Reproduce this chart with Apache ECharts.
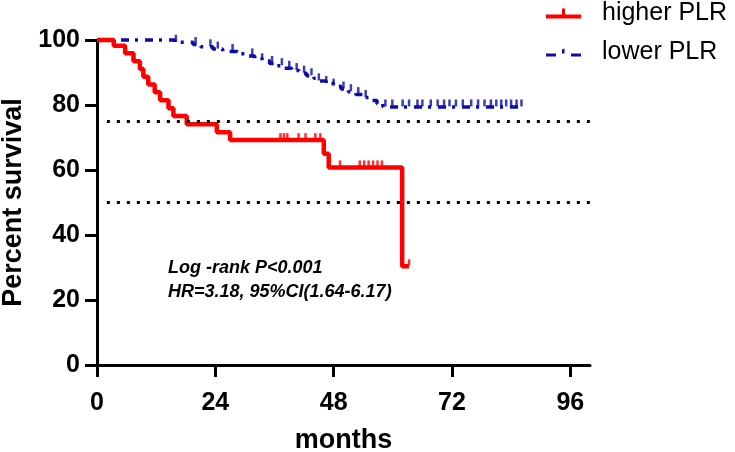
<!DOCTYPE html>
<html>
<head>
<meta charset="utf-8">
<script src="https://cdn.jsdelivr.net/npm/echarts@6/dist/echarts.min.js"></script>
<style>
html,body{margin:0;padding:0;background:#fff;}
#c{width:735px;height:452px;}
</style>
</head>
<body>
<div id="c"></div>
<script>
// ---- data ----
var xTicks = [0, 24, 48, 72, 96];
var yTicks = [0, 20, 40, 60, 80, 100];
var refLevels = [75, 50];

var redName = 'higher PLR';
var redEventTimes = [3.4, 5.7, 7.4, 8.7, 9.4, 10.4, 11.7, 12.8, 14.5, 15.5, 18.2, 24.3, 27.0, 46.0, 47.0, 61.9];
var redEventSurv  = [98.2, 95.9, 93.5, 91.1, 88.7, 86.3, 83.9, 81.5, 79.0, 76.6, 74.1, 71.6, 69.2, 65.0, 60.8, 30.4];
var redEndTime = 63.3;
var redCensorTimes = [37.2, 37.9, 38.6, 40.9, 42.3, 44.3, 45.3, 49.3, 53.3, 54.2, 55.1, 56.0, 56.9, 57.8, 63.3];

var blueName = 'lower PLR';
var blueEventTimes = [15.8, 19.5, 21.0, 23.5, 25.5, 28.5, 30.5, 32.0, 33.5, 35.0, 36.5, 38.0, 39.5, 41.0, 42.5, 44.0, 45.0, 46.5, 48.0, 49.5, 51.0, 52.5, 54.0, 55.5, 56.8, 58.0];
var blueEventSurv  = [99.3, 98.6, 97.9, 97.2, 96.5, 95.8, 95.1, 94.3, 93.6, 92.8, 92.1, 91.3, 90.6, 89.8, 89.0, 88.2, 87.4, 86.6, 85.8, 84.9, 84.1, 83.2, 82.3, 81.4, 80.4, 79.4];
var blueEndTime = 86.3;
var blueCensorTimes = [16.0, 20.0, 23.0, 24.5, 27.5, 31.5, 33.5, 35.5, 37.5, 39.0, 40.5, 42.0, 43.5, 45.0, 46.5, 48.0, 50.0, 51.5, 53.0, 54.5,
  58.5, 59.9, 62.0, 63.3, 65.0, 66.0, 67.7, 69.1, 70.4, 71.5, 72.8, 74.2, 75.9, 77.3, 78.6, 79.9, 81.0, 82.0, 83.0, 84.0, 85.1, 86.1];

var annotLines = ['Log -rank P<0.001', 'HR=3.18, 95%CI(1.64-6.17)'];

// ---- helpers ----
function kmLine(times, surv, endT) {
  var d = [[0, 100]];
  for (var i = 0; i < times.length; i++) d.push([times[i], surv[i]]);
  d.push([endT, surv[surv.length - 1]]);
  return d;
}
function levelAt(t, times, surv) {
  var s = 100;
  for (var i = 0; i < times.length; i++) { if (times[i] <= t) s = surv[i]; }
  return s;
}
function censorPts(ct, times, surv) {
  return ct.map(function (t) { return [t, levelAt(t, times, surv)]; });
}

var RED = '#ff0000';
var BLUE = '#0c0ca6';
var FONT = 'Arial, "Liberation Sans", Helvetica, sans-serif';

var chart = echarts.init(document.getElementById('c'), null, {renderer: 'canvas'});
chart.setOption({
  animation: false,
  backgroundColor: '#ffffff',
  grid: {left: 97, right: 145, top: 40, bottom: 87, containLabel: false, outerBoundsMode: 'none'},
  legend: {
    orient: 'vertical',
    left: 541,
    top: -4,
    itemGap: 14,
    itemWidth: 35,
    itemHeight: 12,
    data: [
      {name: redName, icon: 'path://M0,8 L35,8 L35,12 L0,12 Z M16,2 L19,2 L19,8 L16,8 Z'},
      {name: blueName, icon: 'path://M0,8 L10,8 L10,11 L0,11 Z M16,4 L18.5,3 L18.5,8 L16,8 Z M25,8 L35,8 L35,11 L25,11 Z'}
    ],
    textStyle: {fontFamily: FONT, fontSize: 25, color: '#000', padding: [0, 0, 0, 16]}
  },
  xAxis: {
    type: 'value', min: 0, max: 100,
    name: 'months', nameLocation: 'middle', nameGap: 62,
    nameTextStyle: {fontFamily: FONT, fontSize: 27, fontWeight: 'bold', color: '#000'},
    axisLine: {show: true, lineStyle: {color: '#000', width: 3}},
    axisTick: {show: true, length: 12, lineStyle: {color: '#000', width: 3}, customValues: xTicks},
    axisLabel: {fontFamily: FONT, fontSize: 25, fontWeight: 'bold', color: '#000', margin: 26, customValues: xTicks},
    splitLine: {show: false}
  },
  yAxis: {
    type: 'value', min: 0, max: 100, interval: 20,
    name: 'Percent survival', nameLocation: 'middle', nameGap: 66,
    nameTextStyle: {fontFamily: FONT, fontSize: 27, fontWeight: 'bold', color: '#000'},
    axisLine: {show: true, lineStyle: {color: '#000', width: 3}},
    axisTick: {show: true, length: 12, lineStyle: {color: '#000', width: 3}, customValues: yTicks},
    axisLabel: {fontFamily: FONT, fontSize: 25, fontWeight: 'bold', color: '#000', margin: 17, customValues: yTicks},
    splitLine: {show: false}
  },
  graphic: [
    {type: 'text', left: 168, top: 259, style: {text: annotLines[0], font: 'italic bold 18px ' + FONT, fill: '#000'}},
    {type: 'text', left: 168, top: 283, style: {text: annotLines[1], font: 'italic bold 18px ' + FONT, fill: '#000'}}
  ],
  series: [
    {
      name: 'ref', type: 'line', data: [], silent: true,
      markLine: {
        silent: true, symbol: 'none', label: {show: false},
        lineStyle: {color: '#000', width: 3, type: [3, 7]},
        data: refLevels.map(function (v) { return [{coord: [2, v]}, {coord: [100, v]}]; })
      }
    },
    {
      name: blueName, type: 'line', step: 'end', showSymbol: false, clip: false,
      data: kmLine(blueEventTimes, blueEventSurv, blueEndTime),
      itemStyle: {color: BLUE},
      lineStyle: {color: BLUE, width: 3.5, type: [8, 6, 3, 7]},
      z: 3
    },
    {
      name: blueName + ' censored', type: 'scatter', clip: false,
      data: censorPts(blueCensorTimes, blueEventTimes, blueEventSurv),
      symbol: 'rect', symbolSize: [2.5, 7], symbolOffset: [0, -4],
      itemStyle: {color: BLUE}, z: 3
    },
    {
      name: redName, type: 'line', step: 'end', showSymbol: false, clip: false,
      data: kmLine(redEventTimes, redEventSurv, redEndTime),
      itemStyle: {color: RED},
      lineStyle: {color: RED, width: 4.5},
      z: 4
    },
    {
      name: redName + ' censored', type: 'scatter', clip: false,
      data: censorPts(redCensorTimes, redEventTimes, redEventSurv),
      symbol: 'rect', symbolSize: [2.5, 6], symbolOffset: [0, -4],
      itemStyle: {color: RED}, z: 4
    }
  ]
});
</script>
</body>
</html>
